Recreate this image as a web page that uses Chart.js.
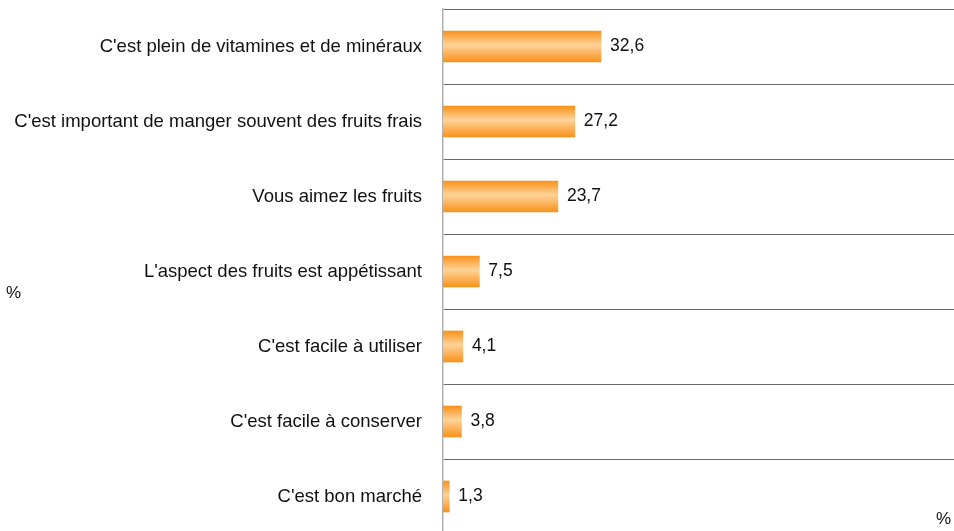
<!DOCTYPE html>
<html>
<head>
<meta charset="utf-8">
<script src="https://cdn.jsdelivr.net/npm/chart.js@4.4.0/dist/chart.umd.min.js"></script>
<style>
  html, body { margin: 0; padding: 0; background: #fff; overflow: hidden; }
  canvas { display: block; }
</style>
</head>
<body>
<canvas id="myChart" width="954" height="536"></canvas>
<script>
// reasons (categories) and their share in %
const categories = [
  "C'est plein de vitamines et de minéraux",
  "C'est important de manger souvent des fruits frais",
  "Vous aimez les fruits",
  "L'aspect des fruits est appétissant",
  "C'est facile à utiliser",
  "C'est facile à conserver",
  "C'est bon marché"
];
const values = [32.6, 27.2, 23.7, 7.5, 4.1, 3.8, 1.3];
const unitLabel = "%";

const FONT = "'Liberation Sans', Arial, sans-serif";

// gradient orange bars, light band in the middle
function barColor(ctx) {
  const chart = ctx.chart;
  if (!chart.chartArea || !chart.scales.y) return '#f8961e';
  const y = chart.scales.y.getPixelForValue(ctx.dataIndex);
  const h = 31;
  const g = chart.ctx.createLinearGradient(0, y - h / 2, 0, y + h / 2);
  g.addColorStop(0, '#f8921a');
  g.addColorStop(0.45, '#ffd39a');
  g.addColorStop(1, '#f8921a');
  return g;
}

// value labels at bar ends + the two "%" marks
const labelPlugin = {
  id: 'labels',
  afterDatasetsDraw(chart) {
    const c = chart.ctx;
    const meta = chart.getDatasetMeta(0);
    c.save();
    c.font = '17.5px ' + FONT;
    c.fillStyle = '#111';
    c.textBaseline = 'middle';
    c.textAlign = 'left';
    meta.data.forEach((bar, i) => {
      c.fillText(values[i].toFixed(1).replace('.', ','), bar.x + 9, bar.y);
    });
    c.font = '17px ' + FONT;
    c.fillText(unitLabel, 6, 293);
    c.fillText(unitLabel, 936, 519);
    c.restore();
  }
};

new Chart(document.getElementById('myChart'), {
  type: 'bar',
  data: {
    labels: categories,
    datasets: [{
      data: values,
      backgroundColor: barColor,
      borderWidth: 0,
      barThickness: 31
    }]
  },
  options: {
    indexAxis: 'y',
    responsive: false,
    animation: false,
    layout: { padding: { top: 9, bottom: 2, left: 0, right: 0 } },
    plugins: { legend: { display: false }, tooltip: { enabled: false } },
    scales: {
      x: {
        display: false,
        min: 0,
        max: 105.4
      },
      y: {
        afterFit(scale) {
          scale.width = 443;
          scale.paddingTop = 0;
          scale.paddingBottom = 0;
        },
        grid: {
          color: '#6b6b6b',
          lineWidth: 1,
          drawTicks: false,
          offset: true
        },
        border: { color: '#b0b0b0', width: 1.5 },
        ticks: {
          padding: 21,
          color: '#111',
          font: { family: FONT, size: 18.5 }
        }
      }
    }
  },
  plugins: [labelPlugin]
});
</script>
</body>
</html>
